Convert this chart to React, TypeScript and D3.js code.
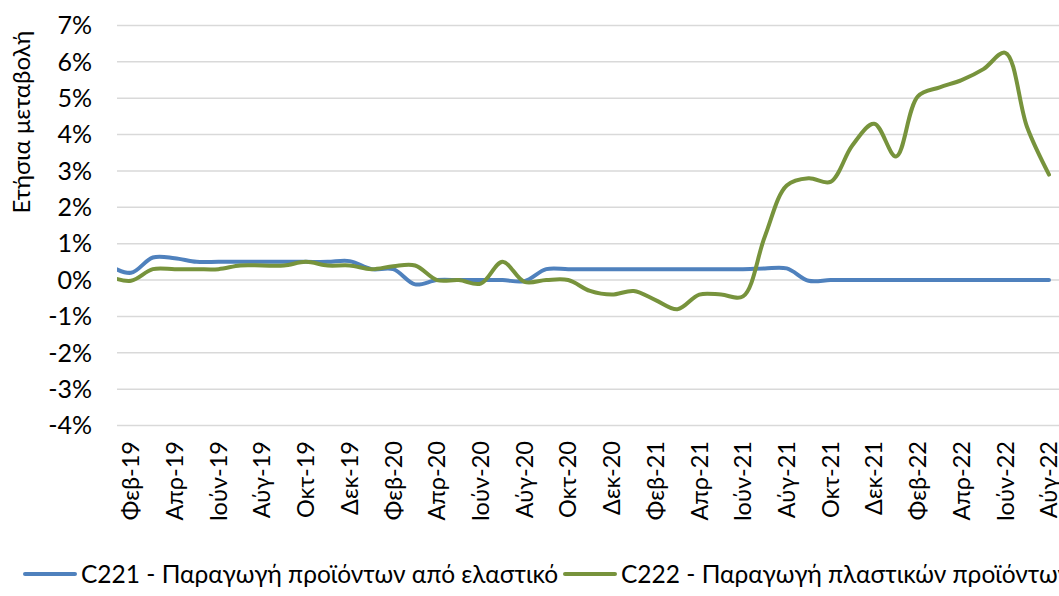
import React from "react";
import * as d3 from "d3";

const months: string[] = [
  "Ιαν-19","Φεβ-19","Μαρ-19","Απρ-19","Μάι-19","Ιούν-19","Ιούλ-19","Αύγ-19","Σεπ-19","Οκτ-19","Νοε-19","Δεκ-19",
  "Ιαν-20","Φεβ-20","Μαρ-20","Απρ-20","Μάι-20","Ιούν-20","Ιούλ-20","Αύγ-20","Σεπ-20","Οκτ-20","Νοε-20","Δεκ-20",
  "Ιαν-21","Φεβ-21","Μαρ-21","Απρ-21","Μάι-21","Ιούν-21","Ιούλ-21","Αύγ-21","Σεπ-21","Οκτ-21","Νοε-21","Δεκ-21",
  "Ιαν-22","Φεβ-22","Μαρ-22","Απρ-22","Μάι-22","Ιούν-22","Ιούλ-22","Αύγ-22"
];

const c221: number[] = [
  0.4, 0.2, 0.62, 0.6, 0.5, 0.5, 0.5, 0.5, 0.5, 0.5, 0.5, 0.52,
  0.3, 0.3, -0.12, 0.0, 0.0, 0.0, 0.0, -0.03, 0.3, 0.3, 0.3, 0.3,
  0.3, 0.3, 0.3, 0.3, 0.3, 0.3, 0.32, 0.32, -0.02, 0.0, 0.0, 0.0,
  0.0, 0.0, 0.0, 0.0, 0.0, 0.0, 0.0, 0.0
];

const c222: number[] = [
  0.1, -0.02, 0.3, 0.3, 0.3, 0.3, 0.4, 0.4, 0.4, 0.5, 0.4, 0.4,
  0.3, 0.38, 0.4, 0.0, 0.0, -0.1, 0.5, -0.05, 0.0, 0.0, -0.3, -0.4,
  -0.3, -0.55, -0.8, -0.4, -0.4, -0.45, 1.2, 2.6, 2.8, 2.7, 3.7, 4.3,
  3.4, 5.05, 5.3, 5.5, 5.8, 6.25, 4.2, 2.9
];

const yTicks: number[] = [-4, -3, -2, -1, 0, 1, 2, 3, 4, 5, 6, 7];

const seriesNames: string[] = [
  "C221 - Παραγωγή προϊόντων από ελαστικό",
  "C222 - Παραγωγή πλαστικών προϊόντων"
];
const seriesColors: string[] = ["#4F81BD", "#77933C"];

const W = 1059;
const H = 596;
const FONT = "Lato, 'Open Sans', 'DejaVu Sans', sans-serif";

export default function App() {
  const plotLeft = 117;
  const plotRight = 1070;
  const x = d3.scaleLinear().domain([1, months.length - 1]).range([131, 1049]);
  const y = d3.scaleLinear().domain([-4, 7]).range([425.5, 25.5]);

  const line = d3
    .line<number>()
    .x((_, i) => x(i))
    .y((d) => y(d))
    .curve(d3.curveCatmullRom.alpha(0.5));

  const tickIdx = months.map((_, i) => i).filter((i) => i >= 1 && (i - 1) % 2 === 0);
  const series = [c221, c222];

  return (
    <svg
      width={W}
      height={H}
      style={{ position: "absolute", left: 0, top: 0, background: "#fff" }}
      fontFamily={FONT}
    >
      <defs>
        <clipPath id="plotclip">
          <rect x={plotLeft} y={0} width={plotRight - plotLeft} height={H} />
        </clipPath>
      </defs>
      {yTicks.map((t) => (
        <g key={t}>
          <line x1={plotLeft} x2={plotRight} y1={y(t)} y2={y(t)} stroke="#D9D9D9" strokeWidth={1.5} />
          <text x={92} y={y(t)} dy="0.35em" textAnchor="end" fontSize={25} fill="#000">
            {`${t}%`}
          </text>
        </g>
      ))}
      <g clipPath="url(#plotclip)">
        {series.map((s, k) => (
          <path
            key={k}
            d={line(s) || ""}
            fill="none"
            stroke={seriesColors[k]}
            strokeWidth={4}
            strokeLinejoin="round"
            strokeLinecap="round"
          />
        ))}
      </g>
      {tickIdx.map((i) => (
        <text
          key={i}
          transform={`translate(${x(i)},441) rotate(-90)`}
          dy="0.35em"
          textAnchor="end"
          fontSize={23.5}
          fill="#000"
        >
          {months[i]}
        </text>
      ))}
      <text
        transform={`translate(22,122) rotate(-90)`}
        dy="0.35em"
        textAnchor="middle"
        fontSize={24}
        fill="#000"
      >
        Ετήσια μεταβολή
      </text>
      {seriesNames.map((n, k) => {
        const lx = k === 0 ? 25 : 565;
        return (
          <g key={k}>
            <line x1={lx} x2={lx + 50} y1={574} y2={574} stroke={seriesColors[k]} strokeWidth={4} strokeLinecap="round" />
            <text x={lx + 56} y={583} fontSize={24.5} fill="#000">
              {n}
            </text>
          </g>
        );
      })}
    </svg>
  );
}
